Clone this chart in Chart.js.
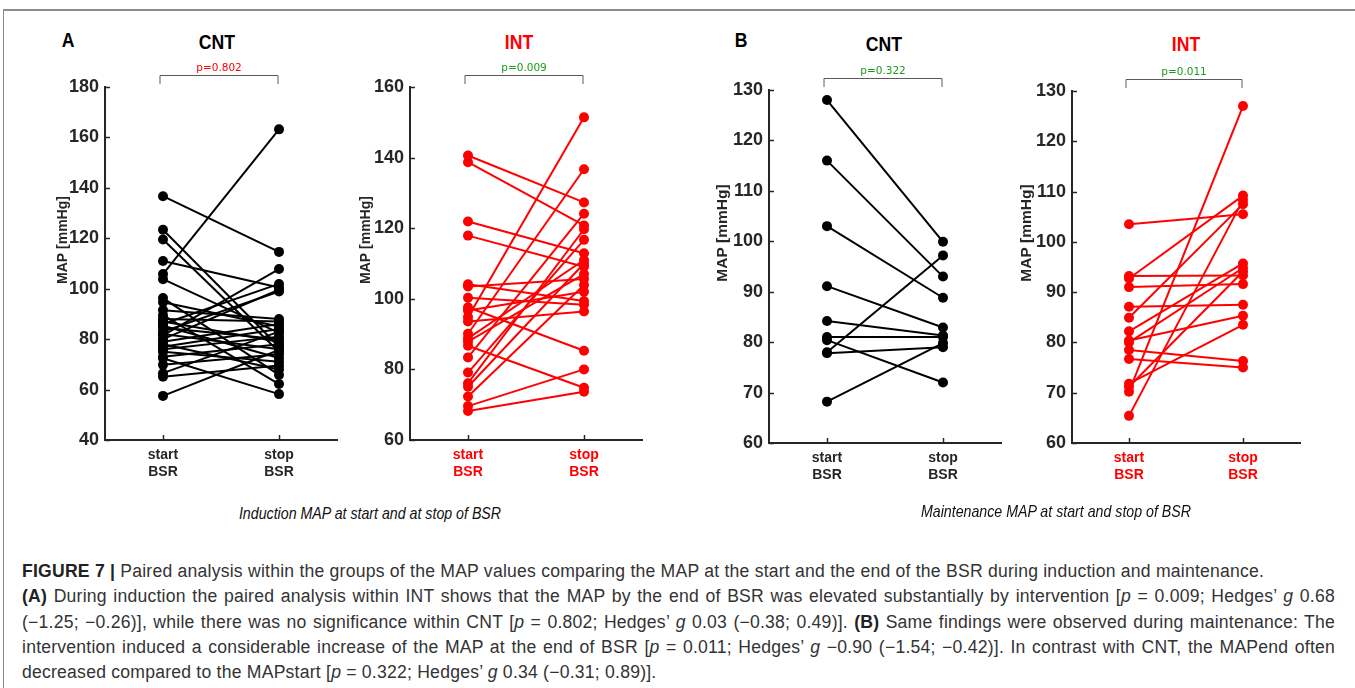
<!DOCTYPE html>
<html>
<head>
<meta charset="utf-8">
<script src="https://cdn.jsdelivr.net/npm/chart.js@4.4.1/dist/chart.umd.min.js"></script>
<style>
  body { margin: 0; background: #fff; width: 1355px; height: 688px; overflow: hidden; position: relative; font-family: 'Liberation Sans', Arial, sans-serif; }
  .frame { position: absolute; left: 3px; top: 9px; width: 1400px; height: 700px; border-top: 2px solid #8c8c8c; border-left: 1px solid #8c8c8c; }
  canvas { position: absolute; }
  .ttl { position: absolute; transform: translate(-50%, -50%) scaleX(0.84); font: bold 21px 'Liberation Sans', sans-serif; white-space: nowrap; }
  .sub { position: absolute; transform: translate(-50%, -50%) scaleX(0.86); font: italic 16.5px 'Liberation Sans', sans-serif; color: #111; white-space: nowrap; }
  .cap { position: absolute; left: 22px; top: 559px; width: 1313px; font-size: 17.6px; letter-spacing: 0.22px; line-height: 25.3px; color: #333; }
  .cap div { white-space: nowrap; }
  .cap .j { text-align: justify; text-align-last: justify; white-space: normal; }
  .cap b { color: #222; }
</style>
</head>
<body>
<div class="frame"></div>

<div class="ttl" style="left:68px;top:40px">A</div>
<div class="ttl" style="left:217px;top:42px">CNT</div>
<div class="ttl" style="left:519px;top:42px;color:#ff0000">INT</div>
<div class="ttl" style="left:741px;top:40px">B</div>
<div class="ttl" style="left:884px;top:44px">CNT</div>
<div class="ttl" style="left:1186px;top:44px;color:#ff0000">INT</div>

<canvas id="aCnt"></canvas>
<canvas id="aInt"></canvas>
<canvas id="bCnt"></canvas>
<canvas id="bInt"></canvas>

<div class="sub" style="left:370px;top:513px">Induction MAP at start and at stop of BSR</div>
<div class="sub" style="left:1056px;top:511px">Maintenance MAP at start and stop of BSR</div>

<div class="cap">
  <div><b>FIGURE 7 |</b> Paired analysis within the groups of the MAP values comparing the MAP at the start and the end of the BSR during induction and maintenance.</div>
  <div class="j"><b>(A)</b> During induction the paired analysis within INT shows that the MAP by the end of BSR was elevated substantially by intervention [<i>p</i> = 0.009; Hedges’ <i>g</i> 0.68</div>
  <div class="j">(−1.25; −0.26)], while there was no significance within CNT [<i>p</i> = 0.802; Hedges’ <i>g</i> 0.03 (−0.38; 0.49)]. <b>(B)</b> Same findings were observed during maintenance: The</div>
  <div class="j">intervention induced a considerable increase of the MAP at the end of BSR [<i>p</i> = 0.011; Hedges’ <i>g</i> −0.90 (−1.54; −0.42)]. In contrast with CNT, the MAPend often</div>
  <div>decreased compared to the MAPstart [<i>p</i> = 0.322; Hedges’ <i>g</i> 0.34 (−0.31; 0.89)].</div>
</div>

<script>
// x categories (start / stop of BSR)
const xLabels = [['start', 'BSR'], ['stop', 'BSR']];

// A - induction, CNT
const cntInductionStart = [136.7, 123.4, 119.5, 111.0, 105.8, 103.8, 96.3, 94.6, 91.5, 89.5, 88.0, 87.0, 86.0, 85.3, 84.5,
  83.0, 82.0, 81.5, 80.0, 79.0, 78.0, 77.0, 76.0, 75.0, 73.0, 72.4, 69.8, 66.5, 65.1, 57.5];
const cntInductionStop = [114.6, 77.0, 75.0, 100.5, 163.2, 82.5, 65.8, 85.0, 88.0, 62.2, 87.0, 79.0, 101.9, 72.5, 80.0,
  98.9, 76.0, 107.8, 99.6, 86.0, 68.0, 84.0, 81.0, 71.0, 78.0, 58.2, 74.0, 83.0, 69.5, 75.7];

// A - induction, INT
const intInductionStart = [140.6, 138.7, 121.9, 117.9, 94.8, 90.1, 83.4, 76.1, 79.1, 104.1, 103.5, 100.3, 97.6, 96.7,
  93.6, 88.8, 87.9, 86.7, 72.3, 69.6, 68.2, 75.1];
const intInductionStop = [127.3, 120.8, 112.9, 109.1, 151.4, 136.7, 124.1, 119.7, 116.7, 99.4, 105.6, 98.3, 85.3, 102.0,
  96.4, 111.0, 107.0, 74.8, 103.9, 80.0, 73.7, 110.0];

// B - maintenance, CNT
const cntMaintStart = [128.0, 116.0, 103.0, 91.1, 84.2, 81.0, 80.4, 78.0, 77.8, 68.2];
const cntMaintStop = [99.9, 93.0, 88.8, 82.9, 81.3, 81.0, 72.0, 97.2, 79.0, 79.8];

// B - maintenance, INT
const intMaintStart = [103.5, 93.2, 92.7, 91.0, 87.1, 84.9, 82.2, 80.4, 78.5, 76.7, 71.8, 71.2, 70.2, 65.4, 80.0];
const intMaintStop = [105.5, 93.3, 109.2, 91.6, 87.5, 107.5, 95.7, 85.3, 76.3, 75.0, 83.5, 94.1, 127.0, 108.3, 94.8];

const pTexts = ['p=0.802', 'p=0.009', 'p=0.322', 'p=0.011'];
const pColors = ['#ff0000', '#1c9a1c', '#1c9a1c', '#1c9a1c'];

const AXIS = '#262626';

// inward tick marks, y label, significance bracket
const frameExtras = {
  id: 'frameExtras',
  afterDraw(chart, args, opts) {
    const { ctx, chartArea, scales: { x, y } } = chart;
    ctx.save();
    ctx.strokeStyle = AXIS;
    ctx.lineWidth = 1.5;
    ctx.beginPath();
    y.ticks.forEach(t => {
      const py = Math.round(y.getPixelForValue(t.value)) + 0.5;
      ctx.moveTo(chartArea.left, py);
      ctx.lineTo(chartArea.left + 5, py);
    });
    x.ticks.forEach(t => {
      const px = Math.round(x.getPixelForValue(t.value)) + 0.5;
      ctx.moveTo(px, chartArea.bottom);
      ctx.lineTo(px, chartArea.bottom - 5);
    });
    ctx.stroke();

    // y title, rotated
    ctx.save();
    ctx.translate(opts.titleX, opts.titleY);
    ctx.rotate(-Math.PI / 2);
    ctx.fillStyle = AXIS;
    ctx.font = 'bold ' + opts.titleSize + "px 'Liberation Sans', Arial, sans-serif";
    ctx.textAlign = 'center';
    ctx.textBaseline = 'middle';
    ctx.fillText('MAP [mmHg]', 0, 0);
    ctx.restore();

    const x1 = x.getPixelForValue(1) - 3;
    const x2 = x.getPixelForValue(2) - 1;
    const yb = Math.round(chartArea.top - 12.5) + 0.5;
    ctx.strokeStyle = '#5a5a5a';
    ctx.lineWidth = 1;
    ctx.beginPath();
    ctx.moveTo(x1, chartArea.top - 3);
    ctx.lineTo(x1, yb);
    ctx.lineTo(x2, yb);
    ctx.lineTo(x2, chartArea.top - 3);
    ctx.stroke();

    ctx.fillStyle = opts.color;
    ctx.font = "10.5px 'DejaVu Sans', sans-serif";
    ctx.textAlign = 'center';
    ctx.textBaseline = 'middle';
    ctx.fillText(opts.text, (x1 + x2) / 2, yb - 7.5);
    ctx.restore();
  }
};

function makePanel(id, p) {
  const canvas = document.getElementById(id);
  const left = Math.round(p.axisX - p.axisWidth - 10);
  const top = Math.round(p.top - 30);
  const width = Math.round(p.right + 10 - left);
  const height = Math.round(p.bottom + 60 - top);
  canvas.width = width;
  canvas.height = height;
  canvas.style.left = left + 'px';
  canvas.style.top = top + 'px';
  canvas.style.width = width + 'px';
  canvas.style.height = height + 'px';

  const datasets = p.starts.map((s, i) => ({
    data: [{ x: 1, y: s }, { x: 2, y: p.stops[i] }],
    borderColor: p.color,
    backgroundColor: p.color,
    borderWidth: 2,
    pointRadius: 5,
    pointBorderWidth: 0,
    pointHoverRadius: 5,
    clip: false,
  }));

  new Chart(canvas, {
    type: 'line',
    data: { datasets },
    options: {
      responsive: false,
      animation: false,
      events: [],
      layout: { padding: { left: 10, top: 30, right: 10, bottom: 0 } },
      plugins: {
        legend: { display: false },
        tooltip: { enabled: false },
        frameExtras: {
          text: p.pText, color: p.pColor,
          titleX: p.titleX - left, titleY: p.titleY - top, titleSize: p.titleSize,
        },
      },
      scales: {
        x: {
          type: 'linear',
          min: 0.5,
          max: 2.5,
          afterBuildTicks: (s) => { s.ticks = [{ value: 1 }, { value: 2 }]; },
          afterFit: (s) => { s.height = 60; },
          grid: { display: false, drawTicks: false },
          border: { display: true, color: AXIS, width: 2 },
          ticks: {
            autoSkip: false,
            maxRotation: 0,
            padding: 7,
            color: p.labelColor,
            font: { family: "'Liberation Sans', Arial, sans-serif", size: 14, weight: 'bold', lineHeight: 1.2 },
            callback: (v, i) => xLabels[i],
          },
        },
        y: {
          min: p.min,
          max: p.max,
          afterFit: (s) => { s.width = p.axisWidth; },
          grid: { display: false, drawTicks: false },
          border: { display: true, color: AXIS, width: 2 },
          ticks: {
            stepSize: p.step,
            padding: 6,
            color: AXIS,
            font: { family: "'Liberation Sans', Arial, sans-serif", size: 18, weight: 'bold' },
          },
        },
      },
    },
    plugins: [frameExtras],
  });
}

document.addEventListener('DOMContentLoaded', () => {
  makePanel('aCnt', { axisX: 105, top: 87, bottom: 440, right: 337, axisWidth: 55, min: 40, max: 180, step: 20,
    titleX: 63, titleY: 240, titleSize: 14,
    starts: cntInductionStart, stops: cntInductionStop, color: '#000000', labelColor: AXIS, pText: pTexts[0], pColor: pColors[0] });
  makePanel('aInt', { axisX: 410, top: 87, bottom: 440, right: 642, axisWidth: 56, min: 60, max: 160, step: 20,
    titleX: 366, titleY: 240, titleSize: 14,
    starts: intInductionStart, stops: intInductionStop, color: '#ff0000', labelColor: '#ff0000', pText: pTexts[1], pColor: pColors[1] });
  makePanel('bCnt', { axisX: 769, top: 90, bottom: 443, right: 1001, axisWidth: 58, min: 60, max: 130, step: 10,
    titleX: 723, titleY: 233, titleSize: 15.5,
    starts: cntMaintStart, stops: cntMaintStop, color: '#000000', labelColor: AXIS, pText: pTexts[2], pColor: pColors[2] });
  makePanel('bInt', { axisX: 1072, top: 91, bottom: 443, right: 1300, axisWidth: 58, min: 60, max: 130, step: 10,
    titleX: 1027, titleY: 233, titleSize: 15.5,
    starts: intMaintStart, stops: intMaintStop, color: '#ff0000', labelColor: '#ff0000', pText: pTexts[3], pColor: pColors[3] });
});
</script>
</body>
</html>
